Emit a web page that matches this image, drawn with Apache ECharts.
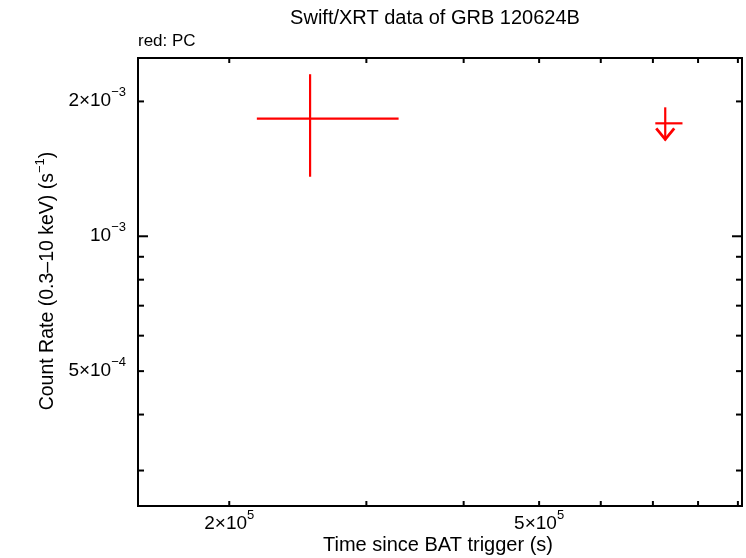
<!DOCTYPE html>
<html><head><meta charset="utf-8">
<script src="https://cdn.jsdelivr.net/npm/echarts@6/dist/echarts.min.js"></script>
<style>html,body{margin:0;padding:0;background:#fff}#c{width:746px;height:558px}</style>
</head><body><div id="c"></div>
<script>
// ---- text ----
const titleText = 'Swift/XRT data of GRB 120624B';
const subtitleText = 'red: PC';
const xTitle = 'Time since BAT trigger (s)';
const yTitleMain = 'Count Rate (0.3\u201310 keV) (s';
const yTitleSup = '\u22121';

// ---- axis ranges ----
const xRange = [1.527e5, 9.11e5];
const yRange = [2.5e-4, 2.5e-3];

// ---- ticks ----
const xTickValues = [2e5, 3e5, 4e5, 5e5, 6e5, 7e5, 8e5, 9e5];
const xTickLabelValues = [2e5, 5e5];
const xTickLabelBase = ['2\u00d710', '5\u00d710'];
const xTickLabelExp = ['5', '5'];
const yTickValues = [3e-4, 4e-4, 5e-4, 6e-4, 7e-4, 8e-4, 9e-4, 1e-3, 2e-3];
const yMajorTicks = [1e-3];
const yTickLabelValues = [2e-3, 1e-3, 5e-4];
const yTickLabelBase = ['2\u00d710', '10', '5\u00d710'];
const yTickLabelExp = ['\u22123', '\u22123', '\u22124'];

// ---- PC detections ----
const pcTime = [2.54e5];
const pcTimeLo = [2.17e5];
const pcTimeHi = [3.30e5];
const pcRate = [1.83e-3];
const pcRateLo = [1.358e-3];
const pcRateHi = [2.30e-3];

// ---- PC upper limits ----
const ulTime = [7.26e5];
const ulTimeLo = [7.05e5];
const ulTimeHi = [7.64e5];
const ulRate = [1.787e-3];

const RED = '#ff0000';
const FONT = '"Liberation Sans", Arial, Helvetica, sans-serif';

const chart = echarts.init(document.getElementById('c'), null, {renderer: 'canvas'});

const rich = {
  b: {fontSize: 19, fontFamily: FONT, color: '#000', lineHeight: 24, verticalAlign: 'bottom'},
  s: {fontSize: 13, fontFamily: FONT, color: '#000', lineHeight: 24, verticalAlign: 'top'}
};

function line(x1, y1, x2, y2, color, w) {
  return {type: 'line', shape: {x1, y1, x2, y2}, style: {stroke: color, lineWidth: w}};
}

const detData = pcTime.map((t, i) => [t, pcRate[i], pcTimeLo[i], pcTimeHi[i], pcRateLo[i], pcRateHi[i]]);
const ulData = ulTime.map((t, i) => [t, ulRate[i], ulTimeLo[i], ulTimeHi[i]]);

const option = {
  animation: false,
  backgroundColor: '#fff',
  grid: {left: 138, right: 4, top: 58, bottom: 52, show: true, borderColor: '#000', borderWidth: 2, backgroundColor: 'transparent'},
  xAxis: {type: 'log', min: xRange[0], max: xRange[1], axisLine: {show: false}, axisTick: {show: false}, axisLabel: {show: false}, splitLine: {show: false}, minorTick: {show: false}},
  yAxis: {type: 'log', min: yRange[0], max: yRange[1], axisLine: {show: false}, axisTick: {show: false}, axisLabel: {show: false}, splitLine: {show: false}, minorTick: {show: false}},
  graphic: [
    {type: 'text', x: 435, y: 8, style: {text: titleText, align: 'center', fontSize: 20, fontFamily: FONT, fill: '#000'}},
    {type: 'text', left: 138, top: 33, style: {text: subtitleText, fontSize: 17, fontFamily: FONT, fill: '#000'}},
    {type: 'text', x: 438, y: 535, style: {text: xTitle, align: 'center', fontSize: 20, fontFamily: FONT, fill: '#000'}},
    {type: 'text', x: 46, y: 281, rotation: Math.PI / 2,
      style: {text: '{b|' + yTitleMain + '}{s|' + yTitleSup + '}{b|)}', align: 'center', verticalAlign: 'middle',
        rich: {b: {fontSize: 19.5, fontFamily: FONT, lineHeight: 24, verticalAlign: 'bottom'}, s: {fontSize: 13, fontFamily: FONT, lineHeight: 24, verticalAlign: 'top'}}}}
  ],
  series: [
    {
      type: 'custom', name: 'xticks', silent: true, clip: false,
      data: xTickValues.map(v => [v, yRange[0]]),
      encode: {x: 0, y: 1},
      renderItem(params, api) {
        const v = api.value(0);
        const pb = api.coord([v, yRange[0]]);
        const pt = api.coord([v, yRange[1]]);
        const ch = [line(pb[0], pb[1], pb[0], pb[1] - 5, '#000', 2), line(pt[0], pt[1], pt[0], pt[1] + 5, '#000', 2)];
        const li = xTickLabelValues.indexOf(v);
        if (li >= 0) {
          ch.push({type: 'text', x: pb[0], y: pb[1] + 3, style: {text: '{b|' + xTickLabelBase[li] + '}{s|' + xTickLabelExp[li] + '}', align: 'center', verticalAlign: 'top', rich}});
        }
        return {type: 'group', children: ch};
      }
    },
    {
      type: 'custom', name: 'yticks', silent: true, clip: false,
      data: yTickValues.map(v => [xRange[0], v]),
      encode: {x: 0, y: 1},
      renderItem(params, api) {
        const v = api.value(1);
        const pl = api.coord([xRange[0], v]);
        const pr = api.coord([xRange[1], v]);
        const len = yMajorTicks.indexOf(v) >= 0 ? 10 : 6;
        const ch = [line(pl[0], pl[1], pl[0] + len, pl[1], '#000', 2), line(pr[0], pr[1], pr[0] - len, pr[1], '#000', 2)];
        const li = yTickLabelValues.indexOf(v);
        if (li >= 0) {
          ch.push({type: 'text', x: pl[0] - 12, y: pl[1] - 3, style: {text: '{b|' + yTickLabelBase[li] + '}{s|' + yTickLabelExp[li] + '}', align: 'right', verticalAlign: 'middle', rich}});
        }
        return {type: 'group', children: ch};
      }
    },
    {
      type: 'custom', name: 'PC', clip: true,
      data: detData,
      encode: {x: 0, y: 1},
      renderItem(params, api) {
        const c = api.coord([api.value(0), api.value(1)]);
        const xl = api.coord([api.value(2), api.value(1)]);
        const xh = api.coord([api.value(3), api.value(1)]);
        const yl = api.coord([api.value(0), api.value(4)]);
        const yh = api.coord([api.value(0), api.value(5)]);
        return {type: 'group', children: [
          line(xl[0], c[1], xh[0], c[1], RED, 2.2),
          line(c[0], yl[1], c[0], yh[1], RED, 2.2)
        ]};
      }
    },
    {
      type: 'custom', name: 'PC UL', clip: true,
      data: ulData,
      encode: {x: 0, y: 1},
      renderItem(params, api) {
        const c = api.coord([api.value(0), api.value(1)]);
        const xl = api.coord([api.value(2), api.value(1)]);
        const xh = api.coord([api.value(3), api.value(1)]);
        return {type: 'group', children: [
          line(xl[0], c[1], xh[0], c[1], RED, 2.2),
          line(c[0], c[1] - 16, c[0], c[1] + 17, RED, 2.2),
          {type: 'polyline', shape: {points: [[c[0] - 9, c[1] + 5], [c[0], c[1] + 16], [c[0] + 9, c[1] + 5]]}, style: {stroke: RED, lineWidth: 2.8, fill: null}}
        ]};
      }
    }
  ]
};
chart.setOption(option);
</script>
</body></html>
